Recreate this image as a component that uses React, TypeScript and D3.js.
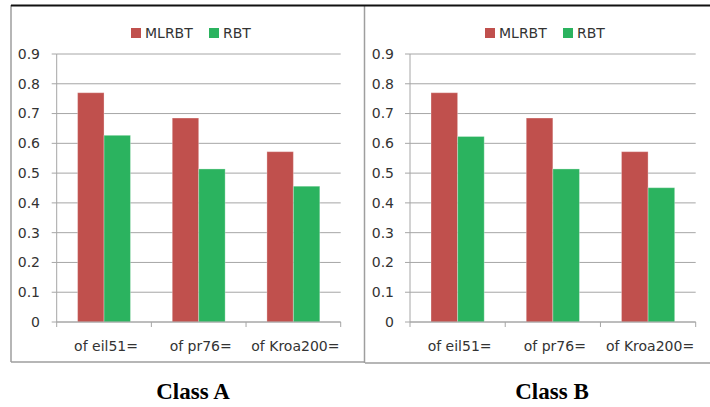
import React from "react";
import * as d3 from "d3";

const categories = ["of eil51=", "of pr76=", "of Kroa200="];
const seriesNames = ["MLRBT", "RBT"];
const classAMLRBT = [0.77, 0.685, 0.572];
const classARBT = [0.627, 0.514, 0.456];
const classBMLRBT = [0.77, 0.685, 0.572];
const classBRBT = [0.623, 0.514, 0.451];
const yTicks = [0, 0.1, 0.2, 0.3, 0.4, 0.5, 0.6, 0.7, 0.8, 0.9];
const panelTitles = ["Class A", "Class B"];
const colors = ["#C0504D", "#2BB35F"];

const W = 710;
const H = 407;
const FONT = "'DejaVu Sans', sans-serif";

type PanelProps = {
  x0: number;
  x1: number;
  labelRight: number;
  legendX: number;
  title: string;
  titleX: number;
  data: number[][];
};

function Panel({ x0, x1, labelRight, legendX, title, titleX, data }: PanelProps) {
  const y = d3.scaleLinear().domain([0, 0.9]).range([322, 54]);
  const x = d3.scaleBand().domain(categories).range([x0, x1]).paddingInner(0).paddingOuter(0);
  const inner = d3
    .scaleBand()
    .domain(seriesNames)
    .range([0, x.bandwidth()])
    .paddingInner(0)
    .paddingOuter(0.79);
  return (
    <g>
      {yTicks.map((t) => (
        <g key={t}>
          <line x1={x0} x2={x1} y1={y(t)} y2={y(t)} stroke="#A6A6A6" strokeWidth={1} />
          <line x1={x0 - 5} x2={x0} y1={y(t)} y2={y(t)} stroke="#A6A6A6" strokeWidth={1} />
          <text
            x={labelRight}
            y={y(t)}
            dy="0.35em"
            textAnchor="end"
            fontFamily={FONT}
            fontSize={14}
            fill="#333"
          >
            {d3.format("")(t)}
          </text>
        </g>
      ))}
      {categories.map((c, i) =>
        seriesNames.map((s, j) => {
          const v = data[j][i];
          return (
            <rect
              key={c + s}
              x={(x(c) as number) + (inner(s) as number)}
              y={y(v)}
              width={inner.bandwidth()}
              height={y(0) - y(v)}
              fill={colors[j]}
              stroke="rgba(255,255,255,0.3)"
              strokeWidth={1}
            />
          );
        })
      )}
      <line x1={x0} x2={x0} y1={y(0.9)} y2={y(0)} stroke="#A6A6A6" strokeWidth={1} />
      <line x1={x0} x2={x1} y1={y(0)} y2={y(0)} stroke="#A6A6A6" strokeWidth={1} />
      {[...categories.map((c) => x(c) as number), x1].map((tx, i) => (
        <line key={i} x1={tx} x2={tx} y1={y(0)} y2={y(0) + 5} stroke="#A6A6A6" strokeWidth={1} />
      ))}
      {categories.map((c) => (
        <text
          key={c}
          x={(x(c) as number) + x.bandwidth() / 2 + 2}
          y={346}
          dy="0.35em"
          textAnchor="middle"
          fontFamily={FONT}
          fontSize={14}
          fill="#333"
        >
          {c}
        </text>
      ))}
      {seriesNames.map((s, j) => {
        const lx = legendX + j * 78;
        return (
          <g key={s}>
            <rect x={lx} y={28} width={10} height={10} fill={colors[j]} />
            <text x={lx + 14} y={33} dy="0.35em" fontFamily={FONT} fontSize={14} fill="#333">
              {s}
            </text>
          </g>
        );
      })}
      <text
        x={titleX}
        y={399}
        textAnchor="middle"
        fontFamily="'Liberation Serif', 'Times New Roman', serif"
        fontWeight="bold"
        fontSize={23}
        fill="#000"
      >
        {title}
      </text>
    </g>
  );
}

export default function App() {
  return (
    <svg
      width={W}
      height={H}
      style={{ position: "absolute", left: 0, top: 0, background: "#fff" }}
    >
      <rect x={0} y={0} width={W} height={H} fill="#fff" />
      <line x1={11} x2={11} y1={5} y2={362} stroke="#9E9E9E" strokeWidth={1.5} />
      <line x1={364.5} x2={364.5} y1={5} y2={363} stroke="#9E9E9E" strokeWidth={1.5} />
      <line x1={11} x2={365} y1={362} y2={362} stroke="#9E9E9E" strokeWidth={1.5} />
      <line x1={365} x2={710} y1={363} y2={363} stroke="#9E9E9E" strokeWidth={1.5} />
      <line x1={11} x2={710} y1={5.5} y2={5.5} stroke="#111" strokeWidth={2} />
      <Panel
        x0={56.7}
        x1={340.7}
        labelRight={40}
        legendX={131}
        title={panelTitles[0]}
        titleX={193}
        data={[classAMLRBT, classARBT]}
      />
      <Panel
        x0={410}
        x1={695.7}
        labelRight={394}
        legendX={485}
        title={panelTitles[1]}
        titleX={552}
        data={[classBMLRBT, classBRBT]}
      />
    </svg>
  );
}
